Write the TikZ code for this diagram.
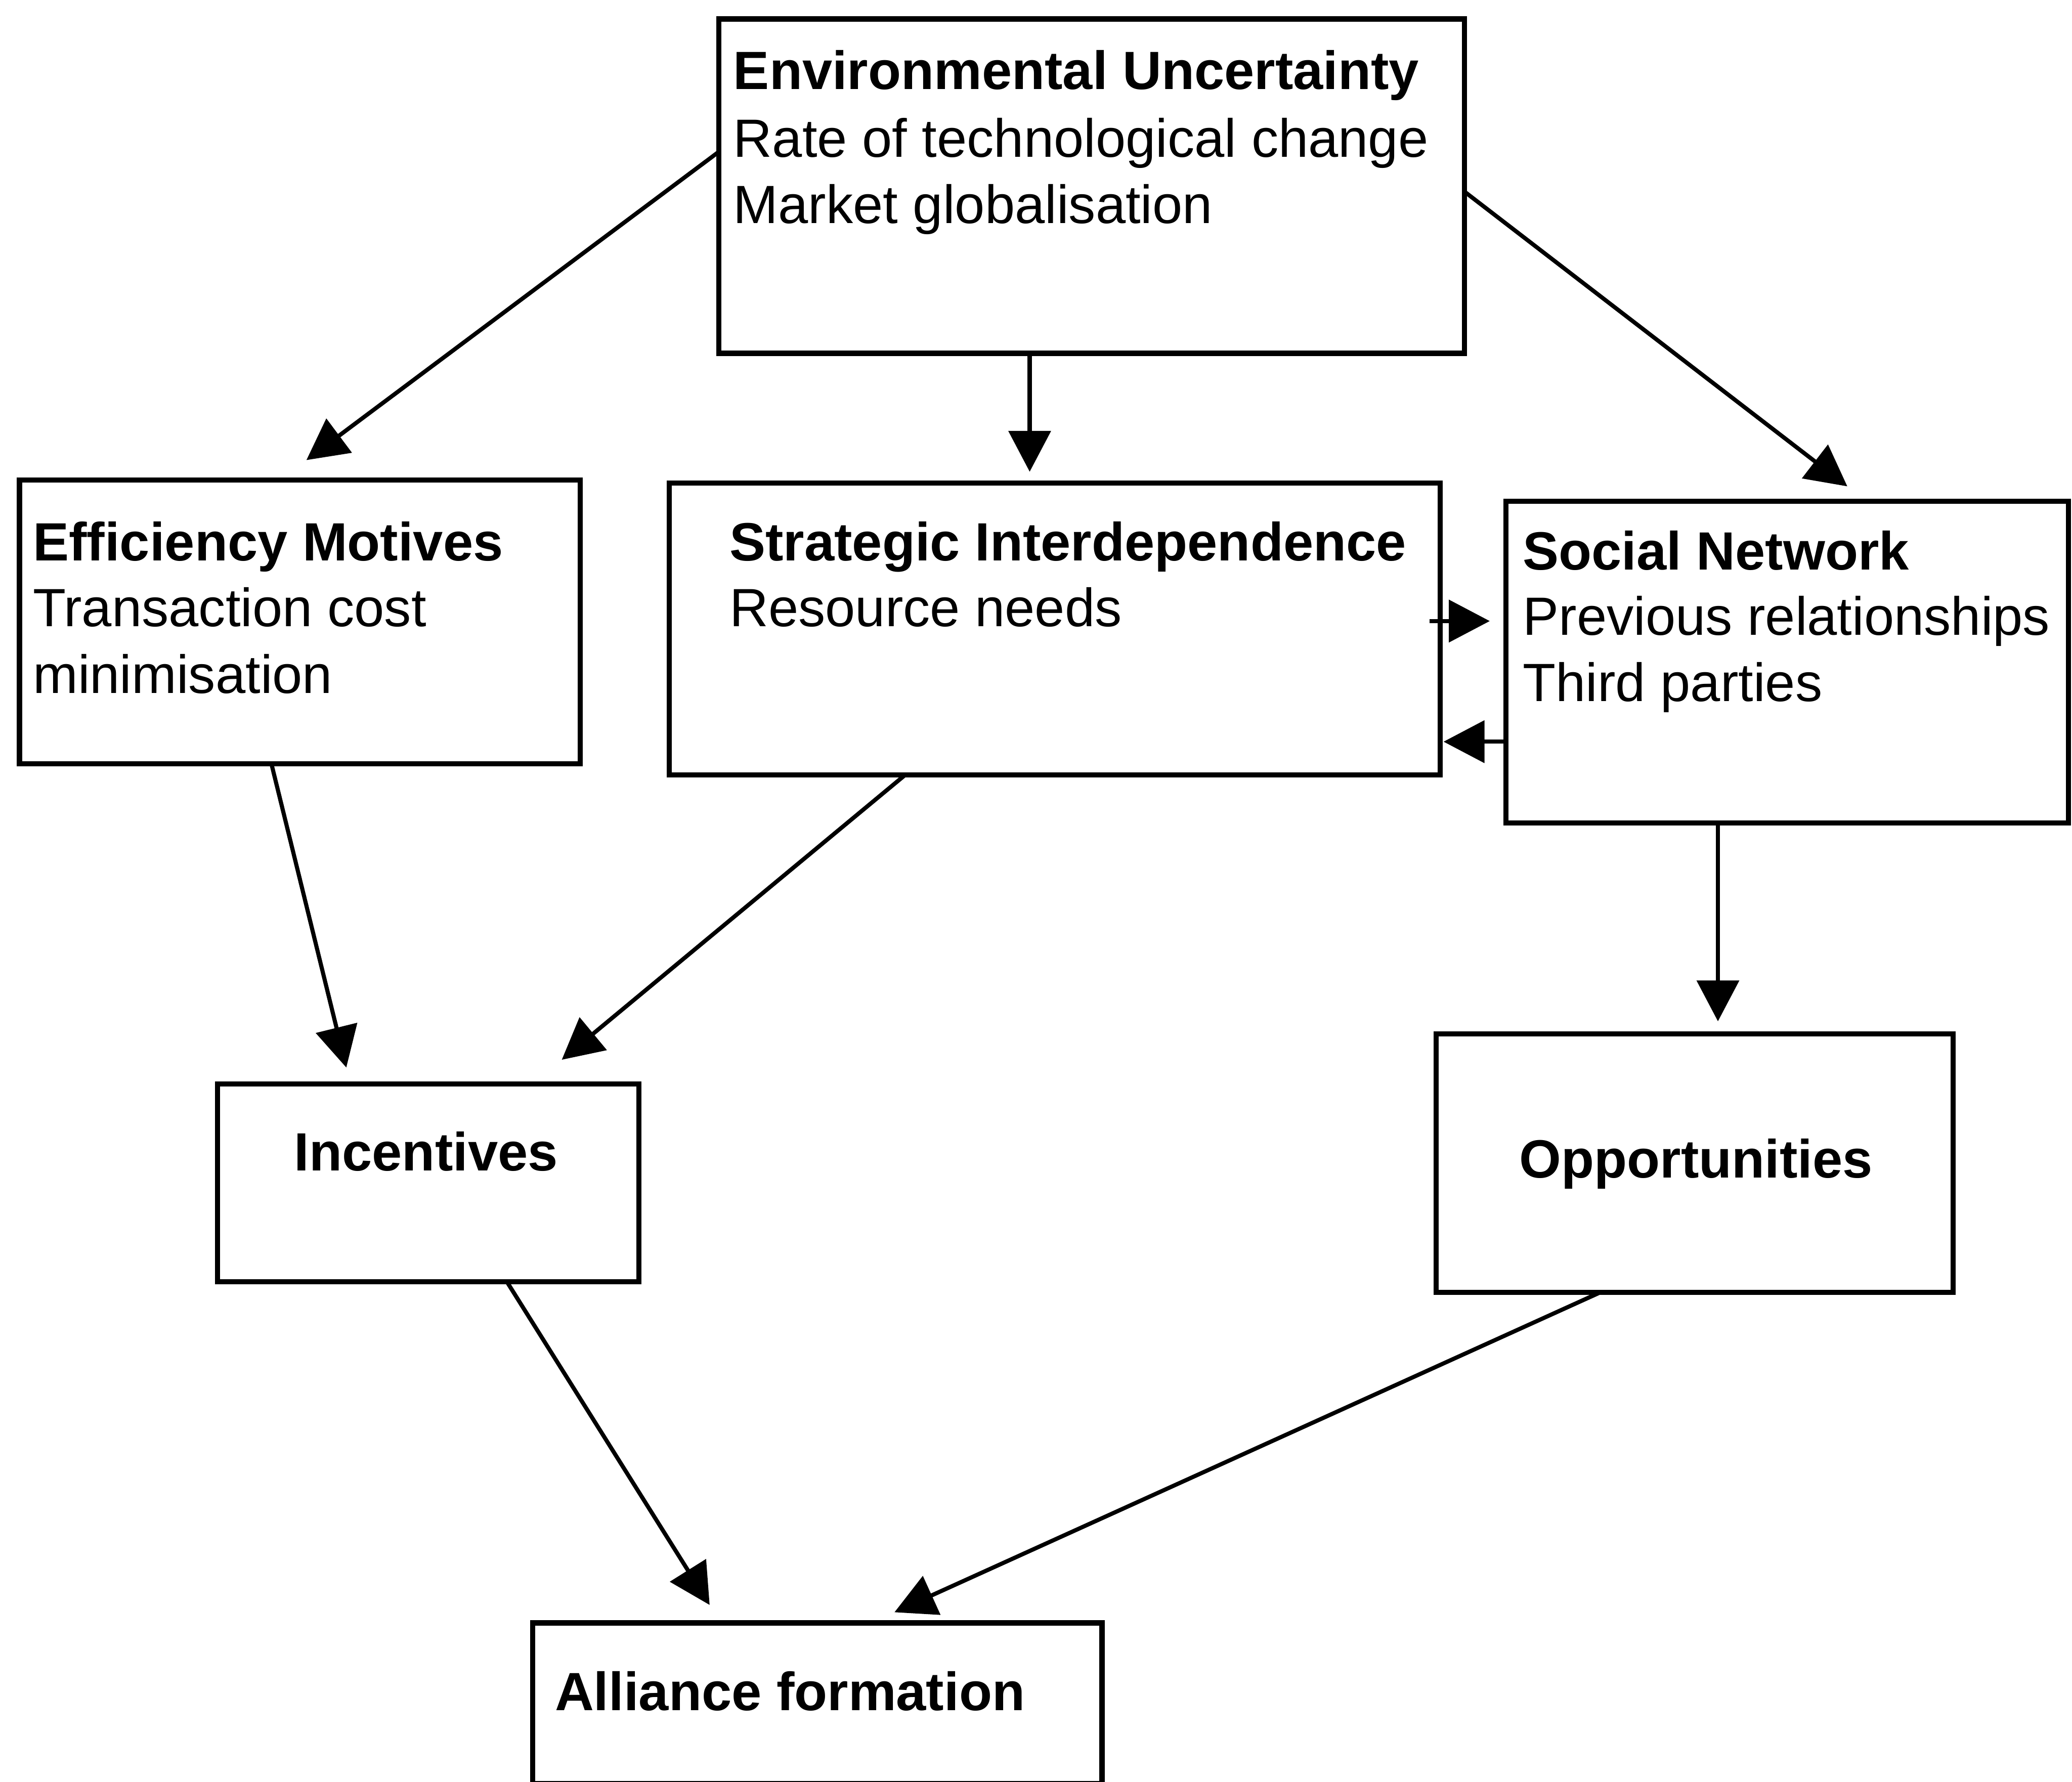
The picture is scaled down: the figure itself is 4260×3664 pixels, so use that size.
\documentclass[tikz,border=0pt]{standalone}
\usepackage{fontspec}
\setmainfont{Liberation Sans}
\usetikzlibrary{arrows.meta,calc}
\begin{document}
\begin{tikzpicture}[x=0.01cm,y=-0.01cm,
  box/.style={draw=black,line width=3pt,inner sep=0pt,outer sep=0pt,anchor=north west,fill=none},
  txt/.style={inner sep=0pt,outer sep=0pt,anchor=base west,font=\fontsize{31.5}{39}\selectfont},
  ctxt/.style={txt,anchor=base},
  arr/.style={line width=2.4pt,-{Triangle[length=0.84cm,width=0.86cm]}}]
\useasboundingbox (0,0) rectangle (4260,3664);
% boxes
\node[box,minimum width=15.32cm,minimum height=6.87cm] (env) at (1478,39) {};
\node[box,minimum width=11.52cm,minimum height=5.83cm] (eff) at (40,987) {};
\node[box,minimum width=15.84cm,minimum height=6.00cm] (strat) at (1376,993) {};
\node[box,minimum width=11.56cm,minimum height=6.61cm] (soc) at (3096,1031) {};
\node[box,minimum width=8.66cm,minimum height=4.06cm] (inc) at (447,2229) {};
\node[box,minimum width=10.62cm,minimum height=5.31cm] (opp) at (2953,2126) {};
\node[box,minimum width=11.70cm,minimum height=3.30cm] (all) at (1095,3337) {};
% texts
\node[txt] (env1) at (1508,184) {\textbf{Environmental Uncertainty}};
\node[txt] (env2) at (1508,323) {Rate of technological change};
\node[txt] (env3) at (1508,459) {Market globalisation};
\node[txt] (eff1) at (68,1153) {\textbf{Efficiency Motives}};
\node[txt] (eff2) at (68,1288) {Transaction cost};
\node[txt] (eff3) at (68,1425) {minimisation};
\node[txt] (str1) at (1500,1153) {\textbf{Strategic Interdependence}};
\node[txt] (str2) at (1500,1288) {Resource needs};
\node[txt] (soc1) at (3131,1172) {\textbf{Social Network}};
\node[txt] (soc2) at (3131,1306) {Previous relationships};
\node[txt] (soc3) at (3131,1442) {Third parties};
\node[ctxt] (inct) at (876,2407) {\textbf{Incentives}};
\node[ctxt] (oppt) at (3487,2422) {\textbf{Opportunities}};
\node[txt] (allt) at (1141,3517) {\textbf{Alliance formation}};
% connectors
\draw[arr] ($(env.north west)+(0,273)$) -- ($(eff.north west)+(590,-41)$);
\draw[arr] ($(env.south west)+(639,0)$) -- ($(strat.north west)+(741,-23)$);
\draw[arr] ($(env.north east)+(0,355)$) -- ($(soc.north west)+(702,-31)$);
\draw[arr] ($(strat.north east)+(-22,284)$) -- ($(strat.north east)+(102,284)$);
\draw[arr] ($(soc.north west)+(0,494)$) -- ($(strat.north east)+(7,532)$);
\draw[arr] ($(eff.south west)+(518,0)$) -- ($(inc.north west)+(265,-34)$);
\draw[arr] ($(strat.south west)+(485,0)$) -- ($(inc.north west)+(708,-50)$);
\draw[arr] ($(soc.south west)+(436,0)$) -- ($(opp.north west)+(579,-26)$);
\draw[arr] ($(inc.south west)+(595,0)$) -- ($(all.north west)+(364,-37)$);
\draw[arr] ($(opp.south west)+(337,0)$) -- ($(all.north west)+(744,-22)$);
\end{tikzpicture}
\end{document}
